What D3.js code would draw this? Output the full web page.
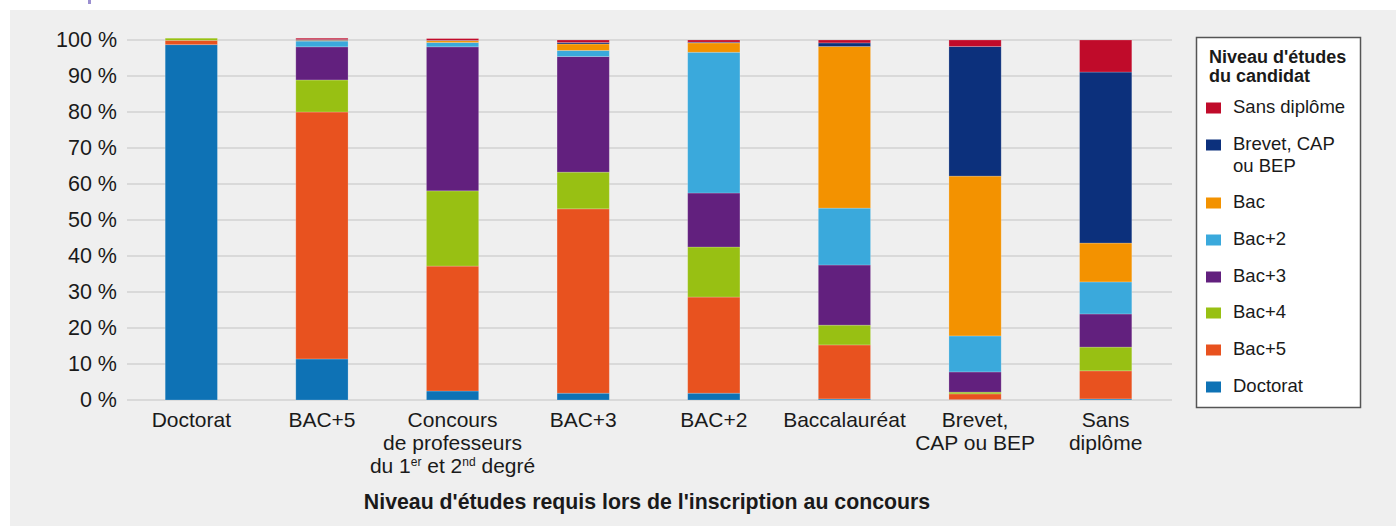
<!DOCTYPE html>
<html><head><meta charset="utf-8">
<script src="https://cdn.jsdelivr.net/npm/d3@7"></script>
<style>
html,body{margin:0;padding:0;background:#fff;}
svg{display:block;font-family:"Liberation Sans",Arial,sans-serif;}
</style></head>
<body>
<svg id="chart" width="1396" height="526"></svg>
<script>
// ---- data ----
const categories = ["Doctorat","BAC+5","Concours|de professeurs|du 1er et 2nd degré","BAC+3","BAC+2","Baccalauréat","Brevet,|CAP ou BEP","Sans|diplôme"];
const seriesNames = ["Doctorat","Bac+5","Bac+4","Bac+3","Bac+2","Bac","Brevet, CAP ou BEP","Sans diplôme"];
const doctorat = [98.7, 11.4, 2.5, 1.9, 1.9, 0.3, 0.1, 0.3];
const bac5     = [1.2, 68.6, 34.7, 51.2, 26.7, 15.0, 1.6, 7.8];
const bac4     = [0.6, 8.9, 20.9, 10.2, 13.9, 5.5, 0.5, 6.6];
const bac3     = [0.0, 9.2, 40.0, 32.1, 15.0, 16.7, 5.6, 9.2];
const bac2     = [0.0, 1.6, 1.2, 1.7, 39.1, 15.8, 10.0, 8.9];
const bac      = [0.0, 0.2, 0.5, 1.8, 2.6, 44.9, 44.4, 10.8];
const brevet   = [0.0, 0.2, 0.1, 0.4, 0.2, 1.0, 36.0, 47.5];
const sans     = [0.0, 0.4, 0.5, 0.7, 0.6, 0.8, 1.8, 8.9];
const yTicks = [0,10,20,30,40,50,60,70,80,90,100];
const colors = ["#0e72b5","#e8521f","#98c013","#62207e","#3aa9dc","#f39200","#0c307c","#c00b2a"];
const legendOrder = ["Sans diplôme","Brevet, CAP|ou BEP","Bac","Bac+2","Bac+3","Bac+4","Bac+5","Doctorat"];
const legendColorIdx = [7,6,5,4,3,2,1,0];
const axisTitle = "Niveau d'études requis lors de l'inscription au concours";
const legendTitle = ["Niveau d'études","du candidat"];

const seriesValues = [doctorat,bac5,bac4,bac3,bac2,bac,brevet,sans];
const table = categories.map((c,i)=>{
  const o = {cat:c};
  seriesNames.forEach((s,j)=>o[s]=seriesValues[j][i]);
  return o;
});

const svg = d3.select("#chart");
// background
svg.append("rect").attr("x",10).attr("y",10).attr("width",1386).attr("height",516).attr("fill","#efefef");
svg.append("rect").attr("x",88).attr("y",0).attr("width",3).attr("height",4).attr("fill","#9b8fd0");

const x = d3.scaleBand().domain(categories).range([126,1171]).paddingInner(0.6).paddingOuter(0.3);
const y = d3.scaleLinear().domain([0,100]).range([400,40]);

// gridlines
svg.append("g").selectAll("line").data(yTicks).join("line")
  .attr("x1",127).attr("x2",1172)
  .attr("y1",d=>y(d)).attr("y2",d=>y(d))
  .attr("stroke","#d2d2d2").attr("stroke-width",1.5);

// y labels
const yAxis = d3.axisLeft(y).tickValues(yTicks).tickSize(0).tickPadding(0).tickFormat(d=>d+" %");
const gy = svg.append("g").attr("transform","translate(117,0)").call(yAxis);
gy.select(".domain").remove();
gy.selectAll("text").attr("font-size",21.5).attr("fill","#1a1a1a")
  .attr("font-family","'Liberation Sans',Arial,sans-serif");

// stacked bars
const stack = d3.stack().keys(seriesNames)(table);
svg.append("g").selectAll("g").data(stack).join("g")
  .attr("fill",(d,i)=>colors[i])
  .selectAll("rect").data(d=>d).join("rect")
  .attr("x",d=>x(d.data.cat))
  .attr("width",x.bandwidth())
  .attr("y",d=>y(d[1]))
  .attr("height",d=>Math.max(0,y(d[0])-y(d[1])))
  .attr("stroke","rgba(255,255,255,0.25)").attr("stroke-width",0.8);

// x labels
const xl = svg.append("g");
const fs = 21;
categories.forEach(c=>{
  const lines = c.split("|");
  const t = xl.append("text").attr("x",x(c)+x.bandwidth()/2).attr("y",427)
    .attr("text-anchor","middle").attr("font-size",fs).attr("fill","#1a1a1a");
  lines.forEach((ln,i)=>{
    const ts = t.append("tspan").attr("x",x(c)+x.bandwidth()/2).attr("dy",i===0?0:23);
    if(ln === "du 1er et 2nd degré"){
      ts.text("du 1");
      t.append("tspan").attr("font-size",12).attr("dy",-7).text("er");
      t.append("tspan").attr("font-size",fs).attr("dy",7).text(" et 2");
      t.append("tspan").attr("font-size",12).attr("dy",-7).text("nd");
      t.append("tspan").attr("font-size",fs).attr("dy",7).text(" degré");
    } else ts.text(ln);
  });
});

// axis title
svg.append("text").attr("x",647).attr("y",509).attr("text-anchor","middle")
  .attr("font-size",21.3).attr("font-weight","bold").attr("fill","#1a1a1a").text(axisTitle);

// legend
const lg = svg.append("g");
lg.append("rect").attr("x",1196.5).attr("y",37.5).attr("width",164).attr("height",370)
  .attr("fill","#fff").attr("stroke","#555").attr("stroke-width",1.5);
legendTitle.forEach((t,i)=>{
  lg.append("text").attr("x",1209).attr("y",63+i*19).attr("font-size",18)
    .attr("font-weight","bold").attr("fill","#1a1a1a").text(t);
});
const itemY = [113,150,208,245,282,318,355,392];
legendOrder.forEach((name,i)=>{
  const by = itemY[i];
  lg.append("rect").attr("x",1206).attr("y",by-10.5).attr("width",15).attr("height",11)
    .attr("fill",colors[legendColorIdx[i]]);
  const t = lg.append("text").attr("x",1233).attr("y",by).attr("font-size",18.5).attr("fill","#1a1a1a");
  name.split("|").forEach((ln,k)=>{
    t.append("tspan").attr("x",1233).attr("dy",k===0?0:22).text(ln);
  });
});
</script>
</body></html>
